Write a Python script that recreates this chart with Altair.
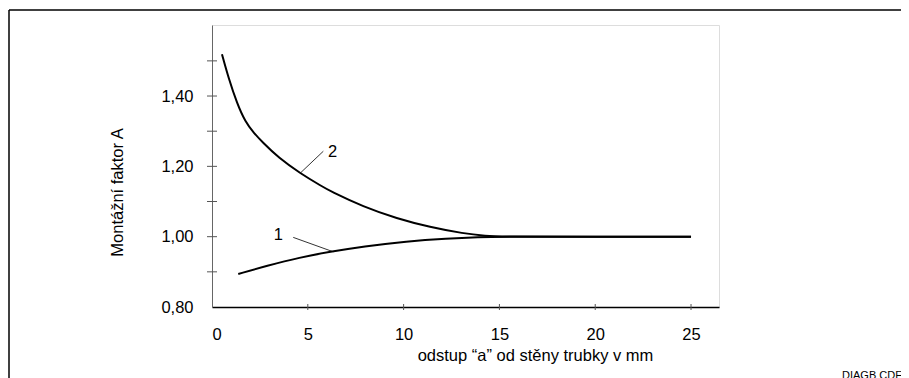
import altair as alt
import pandas as pd

# ---- data ----
curve2_x = [0.52, 0.87, 1.30, 1.74, 2.2, 2.61, 3.48, 4.61, 5.74, 6.16, 7.9, 9.64, 11.38, 13.12, 14.34, 15.0, 20.0, 25.0]
curve2_y = [1.519, 1.450, 1.380, 1.326, 1.294, 1.270, 1.224, 1.180, 1.143, 1.130, 1.085, 1.052, 1.027, 1.009, 1.002, 1.0, 1.0, 1.0]

curve1_x = [1.37, 2.85, 4.59, 6.16, 7.9, 10.16, 12.25, 14.0, 15.0, 20.0, 25.0]
curve1_y = [0.894, 0.917, 0.941, 0.957, 0.972, 0.987, 0.995, 0.999, 1.0, 1.0, 1.0]

label_text = ["1", "2"]
label_x = [3.46, 6.3]
label_y = [1.005, 1.241]

leader_x = [4.24, 4.63]
leader_y = [0.998, 1.182]
leader_x2 = [6.33, 5.81]
leader_y2 = [0.957, 1.243]

y_label_values = [0.8, 1.0, 1.2, 1.4]
y_tick_values = [0.9, 1.0, 1.1, 1.2, 1.3, 1.4, 1.5]
x_tick_values = [5, 10, 15, 20, 25]
x_label_values = [0, 5, 10, 15, 20, 25]

FONT = "Liberation Sans"
FS = 16.5
W, H = 507, 282

curves = pd.concat([
    pd.DataFrame({"x": curve2_x, "y": curve2_y, "c": "2"}),
    pd.DataFrame({"x": curve1_x, "y": curve1_y, "c": "1"}),
])

xs = alt.Scale(domain=[0, 26.46], nice=False, zero=False)
ys = alt.Scale(domain=[0.8, 1.602], nice=False, zero=False)

base_x = alt.X("x:Q", scale=xs, axis=alt.Axis(
    values=x_label_values, ticks=False, grid=False, domainColor="#000000", domainWidth=1.5,
    labelFont=FONT, labelFontSize=FS, labelColor="#000000", labelPadding=19,
    title="odstup “a” od stěny trubky v mm", titleFont=FONT, titleFontSize=FS, titleFontWeight="normal",
    titleColor="#000000", titleX=323, titleY=48, titleBaseline="middle", titleAlign="center"))
base_y = alt.Y("y:Q", scale=ys, axis=alt.Axis(
    values=y_label_values, ticks=False, grid=False, domainColor="#666666", domainWidth=1,
    labelFont=FONT, labelFontSize=FS, labelColor="#000000", labelPadding=19,
    labelExpr="replace(format(datum.value, '.2f'), '.', ',')",
    title="Montážní faktor A", titleFont=FONT, titleFontSize=FS, titleFontWeight="normal",
    titleColor="#000000", titleX=-95, titleY=167, titleBaseline="middle", titleAlign="center", titleAngle=-90))

lines = alt.Chart(curves).mark_line(color="#000000", strokeWidth=2, interpolate="basis").encode(
    x=base_x, y=base_y, detail="c:N")

ytick = alt.Chart(pd.DataFrame({"y": y_tick_values})).mark_rule(color="#555555", strokeWidth=1).encode(
    y=alt.Y("y:Q", scale=ys), x=alt.value(-5), x2=alt.value(5))
xtick = alt.Chart(pd.DataFrame({"x": x_tick_values})).mark_rule(color="#555555", strokeWidth=1).encode(
    x=alt.X("x:Q", scale=xs), y=alt.value(H - 3), y2=alt.value(H + 3))

leaders = alt.Chart(pd.DataFrame({"x": leader_x, "y": leader_y, "x2": leader_x2, "y2": leader_y2})).mark_rule(
    color="#000000", strokeWidth=0.8).encode(
    x=alt.X("x:Q", scale=xs), y=alt.Y("y:Q", scale=ys), x2="x2:Q", y2="y2:Q")

labels = alt.Chart(pd.DataFrame({"x": label_x, "y": label_y, "t": label_text})).mark_text(
    font=FONT, fontSize=FS, color="#000000", align="center", baseline="middle").encode(
    x=alt.X("x:Q", scale=xs), y=alt.Y("y:Q", scale=ys), text="t:N")

frame_left = alt.Chart(pd.DataFrame({"a": [0]})).mark_rule(color="#000000", strokeWidth=1.5).encode(
    x=alt.value(-203), y=alt.value(-15), y2=alt.value(380))
frame_top = alt.Chart(pd.DataFrame({"a": [0]})).mark_rule(color="#000000", strokeWidth=1.5).encode(
    x=alt.value(-203), x2=alt.value(700), y=alt.value(-15))

code = alt.Chart(pd.DataFrame({"t": ["DIAGB CDE"]})).mark_text(
    font=FONT, fontSize=11, color="#000000", align="left", baseline="top").encode(
    x=alt.value(630), y=alt.value(345), text="t:N")

chart = alt.layer(frame_left, frame_top, ytick, xtick, leaders, lines, labels, code).properties(
    width=W, height=H, autosize=alt.AutoSizeParams(type="none"),
    padding={"left": 204, "top": 17, "right": 182, "bottom": 71},
).configure_view(stroke="#666666", strokeWidth=1).configure(background="white")

chart.save("out.html", embed_options={"renderer": "svg", "actions": False})
